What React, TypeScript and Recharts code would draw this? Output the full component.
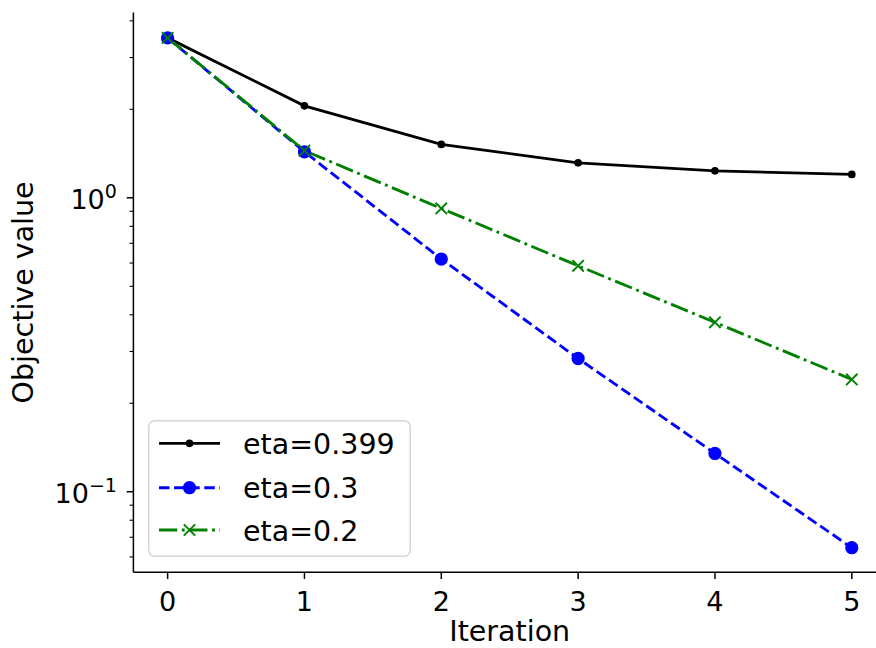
import React from 'react';
import { Legend, Line, LineChart, XAxis, YAxis } from 'recharts';

// values (log y axis)
const iterations = [0, 1, 2, 3, 4, 5];
const eta0399 = [3.5, 2.056, 1.519, 1.315, 1.235, 1.201];
const eta03 = [3.5, 1.434, 0.619, 0.284, 0.135, 0.0645];
const eta02 = [3.5, 1.447, 0.92, 0.587, 0.377, 0.241];
const seriesNames = ['eta=0.399', 'eta=0.3', 'eta=0.2'];
const xTicks = [0, 1, 2, 3, 4, 5];
const yMajorTicks = [0.1, 1];
const yMinorTicks = [0.06, 0.07, 0.08, 0.09, 0.2, 0.3, 0.4, 0.5, 0.6, 0.7, 0.8, 0.9, 2, 3, 4];

const FONT = 'DejaVu Sans';
const LW = 2.85;

const data = iterations.map((it, i) => ({ it, a: eta0399[i], b: eta03[i], c: eta02[i] }));

const series = [
  { key: 'a', name: seriesNames[0], color: '#000000', dash: undefined, marker: 'point' },
  { key: 'b', name: seriesNames[1], color: '#0000ff', dash: '10.5 4.6', marker: 'circle' },
  { key: 'c', name: seriesNames[2], color: '#008000', dash: '18.2 4.6 2.85 4.6', marker: 'x' }
];

function Marker({ type, cx, cy, color }: { type: string; cx: number; cy: number; color: string }) {
  if (type === 'point') return <circle cx={cx} cy={cy} r={2.9} fill={color} stroke={color} strokeWidth={1.9} />;
  if (type === 'circle') return <circle cx={cx} cy={cy} r={5.7} fill={color} stroke={color} strokeWidth={1.9} />;
  const s = 5.7;
  return (
    <g stroke={color} strokeWidth={1.9}>
      <line x1={cx - s} y1={cy - s} x2={cx + s} y2={cy + s} />
      <line x1={cx - s} y1={cy + s} x2={cx + s} y2={cy - s} />
    </g>
  );
}

function YTick(props: any) {
  const { x, y, payload } = props;
  const v = payload.value;
  const major = yMajorTicks.includes(v);
  const exp = Math.round(Math.log10(v));
  return (
    <g>
      <line x1={x} x2={x - (major ? 6.7 : 3.8)} y1={y} y2={y} stroke="#000" strokeWidth={major ? 1.5 : 1.1} />
      {major && (
        <text x={x - 16.5} y={y + 11.5} textAnchor="end" fontSize={27} fontFamily={FONT} fill="#000">
          10
          <tspan dy={-11.5} fontSize={19}>
            {exp < 0 ? '\u2212' + Math.abs(exp) : String(exp)}
          </tspan>
        </text>
      )}
    </g>
  );
}

function XTick(props: any) {
  const { x, y, payload } = props;
  return (
    <g>
      <line x1={x} x2={x} y1={y} y2={y + 6.7} stroke="#000" strokeWidth={1.5} />
      <text x={x} y={y + 38.4} textAnchor="middle" fontSize={27} fontFamily={FONT} fill="#000">
        {payload.value}
      </text>
    </g>
  );
}

function LegendBox() {
  const rows = [23.3, 67.7, 110];
  return (
    <svg width={263} height={137}>
      <rect x={0.75} y={0.75} width={261.5} height={135.5} rx={6} fill="#ffffff" fillOpacity={0.8} stroke="#d6d6d6" strokeWidth={1.5} />
      {series.map((s, i) => (
        <g key={s.key}>
          <line x1={11} x2={72} y1={rows[i]} y2={rows[i]} stroke={s.color} strokeWidth={LW} strokeDasharray={s.dash} />
          <Marker type={s.marker} cx={41.5} cy={rows[i]} color={s.color} />
          <text x={95} y={rows[i] + 10.5} fontSize={28.5} fontFamily={FONT} fill="#000">
            {s.name}
          </text>
        </g>
      ))}
    </svg>
  );
}

export default function App() {
  return (
    <div style={{ position: 'absolute', left: 8, top: 8, width: 868, height: 640, overflow: 'hidden' }}>
      <LineChart width={890} height={640} data={data} margin={{ top: 4.5, right: 12, bottom: 0, left: 0 }}>
        <XAxis
          dataKey="it"
          type="number"
          domain={[-0.25, 5.25]}
          ticks={xTicks}
          interval={0}
          allowDataOverflow
          height={75.7}
          tickLine={false}
          tickSize={0}
          tickMargin={0}
          tick={<XTick />}
          axisLine={{ stroke: '#000', strokeWidth: 1.5 }}
          label={(p: any) => {
            const vb = p.viewBox || { x: 125.4, y: 564.3, width: 752.6 };
            return (
              <text x={vb.x + vb.width / 2} y={vb.y + 68.5} textAnchor="middle" fontSize={28.5} fontFamily={FONT} fill="#000">
                Iteration
              </text>
            );
          }}
        />
        <XAxis
          xAxisId="top"
          orientation="top"
          dataKey="it"
          type="number"
          domain={[-0.25, 5.25]}
          height={0}
          tick={false}
          tickLine={false}
          axisLine={{ stroke: '#000', strokeWidth: 1.5 }}
        />
        <YAxis
          scale="log"
          type="number"
          domain={[0.0532, 4.27]}
          allowDataOverflow
          ticks={[...yMinorTicks, ...yMajorTicks].sort((a, b) => a - b)}
          interval={0}
          width={125.4}
          tickLine={false}
          tickSize={0}
          tickMargin={0}
          tick={<YTick />}
          axisLine={{ stroke: '#000', strokeWidth: 1.5 }}
          label={(p: any) => {
            const vb = p.viewBox || { x: 0, y: 4.5, height: 559.8 };
            const cy = vb.y + vb.height / 2;
            return (
              <text
                x={16}
                y={cy}
                transform={`rotate(-90 16 ${cy})`}
                textAnchor="middle"
                dominantBaseline="central"
                fontSize={28.5}
                fontFamily={FONT}
                fill="#000"
              >
                Objective value
              </text>
            );
          }}
        />
        <Legend
          layout="vertical"
          align="center"
          verticalAlign="middle"
          wrapperStyle={{ left: 140, top: 412, width: 263, height: 137 }}
          content={() => <LegendBox />}
        />
        {series.map((s) => (
          <Line
            key={s.key}
            dataKey={s.key}
            name={s.name}
            type="linear"
            stroke={s.color}
            strokeWidth={LW}
            strokeDasharray={s.dash}
            isAnimationActive={false}
            activeDot={false}
            dot={(p: any) => <Marker key={`${s.key}-${p.index}`} type={s.marker} cx={p.cx} cy={p.cy} color={s.color} />}
          />
        ))}
      </LineChart>
    </div>
  );
}
